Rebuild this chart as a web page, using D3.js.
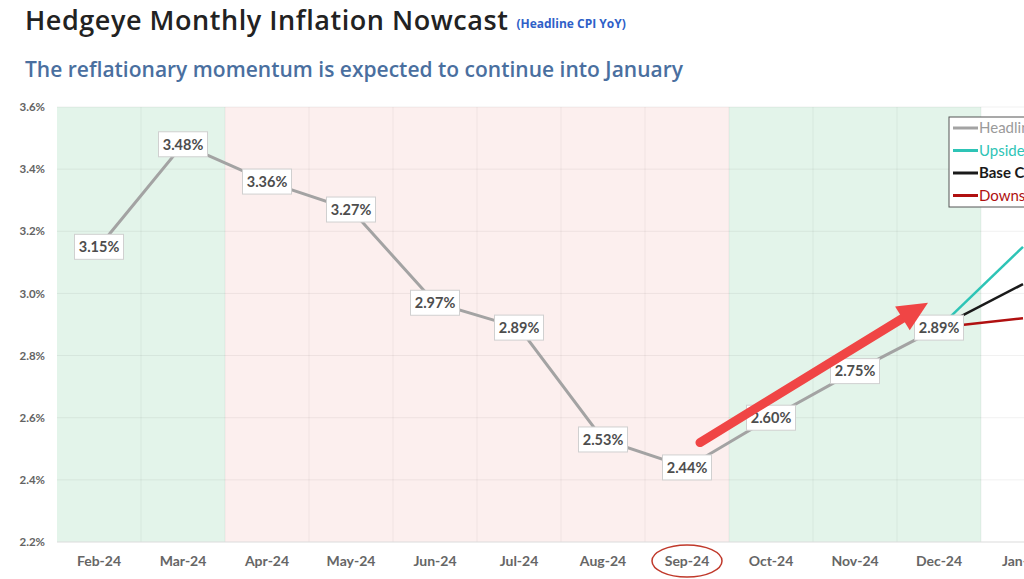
<!DOCTYPE html>
<html>
<head>
<meta charset="utf-8">
<script src="https://cdn.jsdelivr.net/npm/d3@7"></script>
<style>
  body { margin: 0; background: #fff; }
  svg { display: block; overflow: hidden; }
  .tick-y { font-family: Lato, "Open Sans", sans-serif; font-weight: 700; font-size: 11.5px; fill: #636363; }
  .tick-x { font-family: Lato, "Open Sans", sans-serif; font-weight: 700; font-size: 14px; fill: #666; }
  .point-label { font-family: Lato, "Open Sans", sans-serif; font-weight: 700; font-size: 14.5px; fill: #4d4d4d; }
  .legend-text { font-family: Lato, "Open Sans", sans-serif; font-size: 15px; }
</style>
</head>
<body>
<div id="chart"></div>
<script>
// Chart data
var months = ["Feb-24", "Mar-24", "Apr-24", "May-24", "Jun-24", "Jul-24", "Aug-24", "Sep-24", "Oct-24", "Nov-24", "Dec-24", "Jan-25"];
var headlineMonths = ["Feb-24", "Mar-24", "Apr-24", "May-24", "Jun-24", "Jul-24", "Aug-24", "Sep-24", "Oct-24", "Nov-24", "Dec-24"];
var headline = [3.15, 3.48, 3.36, 3.27, 2.97, 2.89, 2.53, 2.44, 2.60, 2.75, 2.89];
var scenarioMonths = ["Dec-24", "Jan-25"];
var upside = [2.89, 3.15];
var baseCase = [2.89, 3.03];
var downside = [2.89, 2.92];
var yTicks = [2.2, 2.4, 2.6, 2.8, 3.0, 3.2, 3.4, 3.6];
var regimeStart = ["Feb-24", "Apr-24", "Oct-24"];
var regimeEnd = ["Mar-24", "Sep-24", "Dec-24"];
var regimeType = ["accelerating", "decelerating", "accelerating"];
var legendNames = ["Headline CPI", "Upside Case", "Base Case", "Downside Case"];

// Sizes
var svgWidth = 1024;
var svgHeight = 579;
var margin = { top: 107, left: 57, bottom: 37 };
var width = 84 * months.length;
var height = svgHeight - margin.top - margin.bottom;

var svg = d3.select("#chart")
    .append("svg")
    .attr("width", svgWidth)
    .attr("height", svgHeight);

// Titles
var title = svg.append("text")
    .attr("x", 25)
    .attr("y", 30)
    .attr("font-family", "'Open Sans', sans-serif")
    .attr("font-weight", 600)
    .attr("font-size", "27px")
    .attr("letter-spacing", "0.55px")
    .attr("fill", "#222")
    .text("Hedgeye Monthly Inflation Nowcast");

svg.append("text")
    .attr("x", 25 + title.node().getComputedTextLength() + 8)
    .attr("y", 28)
    .attr("font-family", "'Open Sans', sans-serif")
    .attr("font-weight", 700)
    .attr("font-size", "12px")
    .attr("fill", "#2f5fc8")
    .text("(Headline CPI YoY)");

svg.append("text")
    .attr("x", 25)
    .attr("y", 77)
    .attr("font-family", "'Open Sans', sans-serif")
    .attr("font-weight", 600)
    .attr("font-size", "21px")
    .attr("fill", "#4a6f9f")
    .text("The reflationary momentum is expected to continue into January");

var chartGroup = svg.append("g")
    .attr("transform", `translate(${margin.left}, ${margin.top})`);

// Scales
var xScale = d3.scaleBand()
    .domain(months)
    .range([0, width]);

var yScale = d3.scaleLinear()
    .domain([2.2, 3.6])
    .range([height, 0]);

var xMid = m => xScale(m) + xScale.bandwidth() / 2;

// Regime shading
var bandColor = { accelerating: "#e3f4ea", decelerating: "#fcefee" };
chartGroup.selectAll("rect.regime")
    .data(regimeStart)
    .enter()
    .append("rect")
    .attr("class", "regime")
    .attr("x", d => xScale(d))
    .attr("y", 0)
    .attr("width", (d, i) => xScale(regimeEnd[i]) + xScale.bandwidth() - xScale(d))
    .attr("height", height)
    .attr("fill", (d, i) => bandColor[regimeType[i]]);

// Grid lines
chartGroup.selectAll("line.hgrid")
    .data(yTicks)
    .enter()
    .append("line")
    .attr("class", "hgrid")
    .attr("x1", 0)
    .attr("x2", width)
    .attr("y1", d => yScale(d))
    .attr("y2", d => yScale(d))
    .attr("stroke", "#000")
    .attr("stroke-opacity", 0.06);

chartGroup.selectAll("line.vgrid")
    .data(months.slice(1))
    .enter()
    .append("line")
    .attr("class", "vgrid")
    .attr("x1", d => xScale(d))
    .attr("x2", d => xScale(d))
    .attr("y1", 0)
    .attr("y2", height)
    .attr("stroke", "#000")
    .attr("stroke-opacity", 0.05);

chartGroup.append("line")
    .attr("x1", 0)
    .attr("x2", width)
    .attr("y1", height)
    .attr("y2", height)
    .attr("stroke", "#e2e2e2");

// Axes
var leftAxis = d3.axisLeft(yScale)
    .tickValues(yTicks)
    .tickFormat(d => d.toFixed(1) + "%")
    .tickSize(0)
    .tickPadding(12);

var bottomAxis = d3.axisBottom(xScale)
    .tickSize(0)
    .tickPadding(14);

chartGroup.append("g")
    .call(leftAxis)
    .call(g => g.select(".domain").remove())
    .selectAll("text")
    .attr("class", "tick-y")
    .attr("font-family", null)
    .attr("font-size", null);

chartGroup.append("g")
    .attr("transform", `translate(0, ${height})`)
    .call(bottomAxis)
    .call(g => g.select(".domain").remove())
    .selectAll("text")
    .attr("class", "tick-x")
    .attr("font-family", null)
    .attr("font-size", null);

// Scenario lines for January
var scenarios = [
    { values: upside, color: "#2ec4b6" },
    { values: baseCase, color: "#1a1a1a" },
    { values: downside, color: "#b01010" }
];

var scenarioLine = d3.line()
    .x((d, i) => xMid(scenarioMonths[i]))
    .y(d => yScale(d));

chartGroup.selectAll("path.scenario")
    .data(scenarios)
    .enter()
    .append("path")
    .attr("class", "scenario")
    .attr("d", d => scenarioLine(d.values))
    .attr("fill", "none")
    .attr("stroke", d => d.color)
    .attr("stroke-width", 2.5);

// Headline line
var headlineLine = d3.line()
    .x((d, i) => xMid(headlineMonths[i]))
    .y(d => yScale(d));

chartGroup.append("path")
    .datum(headline)
    .attr("d", headlineLine)
    .attr("fill", "none")
    .attr("stroke", "#a3a3a3")
    .attr("stroke-width", 3);

// Data labels
var labels = chartGroup.selectAll("g.point-label")
    .data(headline)
    .enter()
    .append("g")
    .attr("transform", (d, i) => `translate(${xMid(headlineMonths[i])}, ${yScale(d)})`);

labels.append("rect")
    .attr("x", -24.5)
    .attr("y", -12.5)
    .attr("width", 49)
    .attr("height", 25)
    .attr("fill", "#fff")
    .attr("stroke", "#d0d0d0");

labels.append("text")
    .attr("class", "point-label")
    .attr("text-anchor", "middle")
    .attr("dy", "0.36em")
    .text(d => d.toFixed(2) + "%");

// Red arrow annotation, Sep-24 to Dec-24
var x0 = xMid("Sep-24") + 13, y0 = yScale(2.52);
var x1 = xMid("Dec-24") - 11, y1 = yScale(2.97);
var len = Math.hypot(x1 - x0, y1 - y0);
var ux = (x1 - x0) / len, uy = (y1 - y0) / len;
var headLen = 30, headHalf = 14;
var bx = x1 - ux * headLen, by = y1 - uy * headLen;

chartGroup.append("line")
    .attr("x1", x0)
    .attr("y1", y0)
    .attr("x2", bx + ux * 2)
    .attr("y2", by + uy * 2)
    .attr("stroke", "#f04545")
    .attr("stroke-width", 9)
    .attr("stroke-linecap", "round");

chartGroup.append("polygon")
    .attr("points", [
        [x1, y1],
        [bx - uy * headHalf, by + ux * headHalf],
        [bx + uy * headHalf, by - ux * headHalf]
    ].map(p => p.join(",")).join(" "))
    .attr("fill", "#f04545");

// Circle round the Sep-24 label
chartGroup.append("ellipse")
    .attr("cx", xMid("Sep-24"))
    .attr("cy", height + 19)
    .attr("rx", 35)
    .attr("ry", 16)
    .attr("fill", "none")
    .attr("stroke", "#c0392b")
    .attr("stroke-width", 1.5);

// Legend
var legendColors = ["#a3a3a3", "#2ec4b6", "#1a1a1a", "#b01010"];
var legendTextColors = ["#9a9a9a", "#2ec4b6", "#1a1a1a", "#b01010"];
var legend = svg.append("g")
    .attr("transform", "translate(949, 117)");

legend.append("rect")
    .attr("width", 160)
    .attr("height", 90)
    .attr("fill", "#fff")
    .attr("stroke", "#555");

var legendRows = legend.selectAll("g.row")
    .data(legendNames)
    .enter()
    .append("g")
    .attr("transform", (d, i) => `translate(0, ${11 + i * 22.5})`);

legendRows.append("line")
    .attr("x1", 4)
    .attr("x2", 29)
    .attr("stroke", (d, i) => legendColors[i])
    .attr("stroke-width", 3);

legendRows.append("text")
    .attr("class", "legend-text")
    .attr("x", 30)
    .attr("dy", "0.36em")
    .attr("font-weight", (d, i) => i == 2 ? 700 : 400)
    .attr("fill", (d, i) => legendTextColors[i])
    .text(d => d);
</script>
</body>
</html>
